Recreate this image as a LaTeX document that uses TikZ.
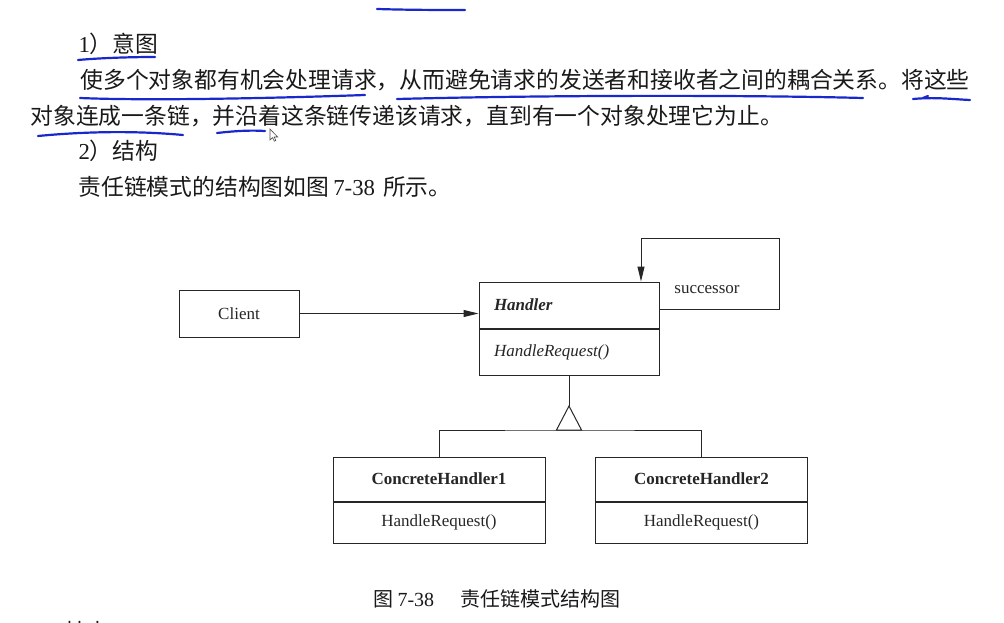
\documentclass[tikz,border=0pt]{standalone}
\usepackage{fontspec}
\setmainfont{Liberation Serif}
\newfontfamily\cjk{Noto Sans CJK SC}
\usetikzlibrary{arrows.meta,positioning}
\definecolor{penblue}{RGB}{25,40,205}

\begin{document}
\begin{tikzpicture}[x=1pt, y=-1pt, line width=1pt, color=black!85,
    >={Triangle[length=15pt,width=7pt]},
    bodytext/.style={anchor=west, inner sep=0pt, text=black!90, font=\fontsize{22.8}{26}\selectfont\cjk},
    classbox/.style={draw, inner sep=0pt, font=\fontsize{17}{20}\selectfont},
    penline/.style={draw=penblue, line width=2.2pt, line cap=round}]
        \useasboundingbox (0,0) rectangle (1004,623);
        %Text
        \node[bodytext] (intenthead) at (78,44) {{\rmfamily 1}）意图};
        \node[bodytext] (intentone) at (80,80) {使多个对象都有机会处理请求，从而避免请求的发送者和接收者之间的耦合关系。将这些};
        \node[bodytext] (intenttwo) at (30,116) {对象连成一条链，并沿着这条链传递该请求，直到有一个对象处理它为止。};
        \node[bodytext] (structhead) at (78,151) {{\rmfamily 2}）结构};
        \node[bodytext] (structline) at (78,187) {责任链模式的结构图如图\hspace{4pt}{\rmfamily 7-38}\hspace{8pt}所示。};
        \node[bodytext] (nexthead) at (63,632) {基本};
        \node[bodytext, font=\fontsize{20}{24}\selectfont\cjk] (caption) at (373,599) {图\hspace{4pt}{\rmfamily 7-38}\hspace{26pt}责任链模式结构图};
        %Classes
        \node[classbox, minimum width=120pt, minimum height=47pt] (client) at (239,313.5) {Client};
        \node[classbox, minimum width=180pt, minimum height=46pt, text width=150pt, align=left] (handler) at (569,305) {\bfseries\itshape Handler};
        \node[classbox, minimum width=180pt, minimum height=46pt, text width=150pt, align=left, below=0pt of handler] (handlerops) {\itshape HandleRequest()};
        \node[classbox, minimum width=212pt, minimum height=44pt] (chone) at (439,479) {\bfseries ConcreteHandler1};
        \node[classbox, minimum width=212pt, minimum height=41pt, below=0pt of chone] (choneops) {HandleRequest()};
        \node[classbox, minimum width=212pt, minimum height=44pt] (chtwo) at (701.5,479) {\bfseries ConcreteHandler2};
        \node[classbox, minimum width=212pt, minimum height=41pt, below=0pt of chtwo] (chtwoops) {HandleRequest()};
        \node[font=\fontsize{17}{20}\selectfont, inner sep=0pt] (succlabel) at (707,290) {successor};
        %Links
        \draw[->] (client.east) -- (client.east -| handler.west);
        \coordinate (loopcorner) at (779,238);
        \draw[->] ([yshift=-4pt]handler.east) -| (loopcorner) -| ([xshift=72pt]handler.north);
        %Inheritance
        \coordinate (apex) at (569,406);
        \coordinate (fork) at (569,430);
        \draw (handlerops.south) -- (apex);
        \draw (apex) -- ([xshift=-12.5pt]fork) -- ([xshift=12.5pt]fork) -- cycle;
        \draw (chone.north) |- (fork) -| (chtwo.north);
        %Pen marks
        \draw[penline] (377,9) .. controls (410,10) and (440,10) .. (465,10);
        \draw[penline] (78,60) .. controls (100,58) and (130,57) .. (155,57);
        \draw[penline] (80,98) .. controls (150,101) and (280,98) .. (365,95);
        \draw[penline] (397,99) .. controls (550,95) and (750,95) .. (863,98);
        \draw[penline] (913,99) .. controls (935,97) and (950,99) .. (970,100);
        \draw[penline] (923,98) -- (928,96);
        \draw[penline] (38,136) .. controls (90,131) and (140,131) .. (183,135);
        \draw[penline] (217,133) .. controls (235,131) and (250,130) .. (265,131);
        %Cursor
        \draw[fill=white, draw=black!70, line width=0.6pt] (270,129) -- (270,140) -- (272.6,137.6) -- (274.3,141.2) -- (275.8,140.5) -- (274.2,137) -- (277.6,137) -- cycle;
    \end{tikzpicture}
\end{document}
